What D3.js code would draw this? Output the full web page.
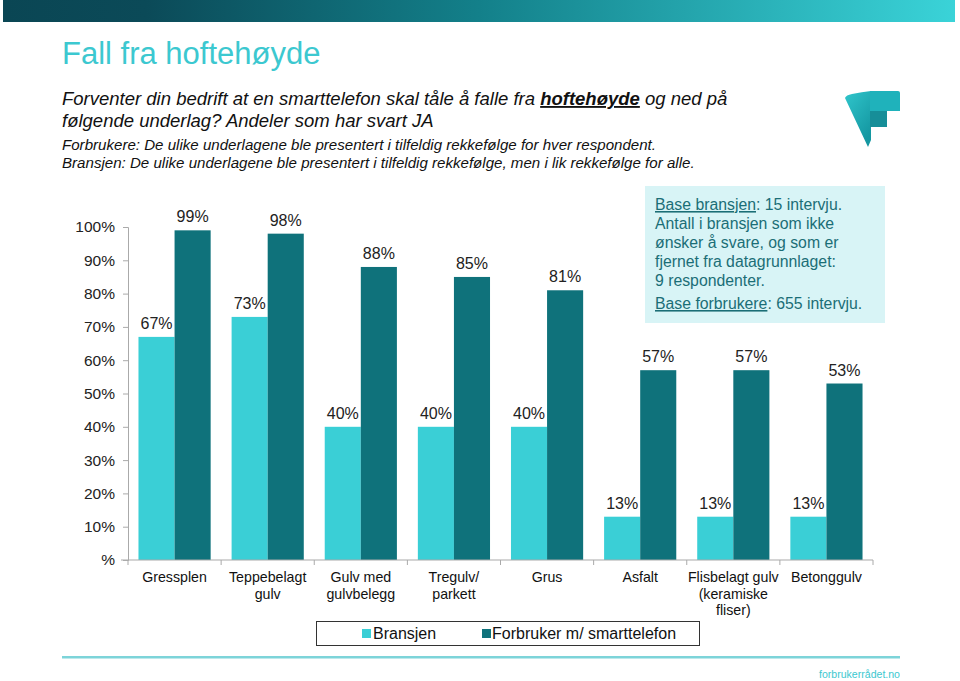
<!DOCTYPE html>
<html><head><meta charset="utf-8">
<script src="https://cdn.jsdelivr.net/npm/d3@7"></script>
<style>
html,body{margin:0;padding:0;background:#fff;}
svg{display:block;font-family:"Liberation Sans",Arial,sans-serif;}
</style></head>
<body><svg id="c" width="960" height="681"></svg>
<script>
const categories = [["Gressplen"],["Teppebelagt","gulv"],["Gulv med","gulvbelegg"],["Tregulv/","parkett"],["Grus"],["Asfalt"],["Flisbelagt gulv","(keramiske","fliser)"],["Betonggulv"]];
const bransjen = [67,73,40,40,40,13,13,13];
const forbruker = [99,98,88,85,81,57,57,53];
const yTicks = [0,10,20,30,40,50,60,70,80,90,100];
const seriesNames = ["Bransjen","Forbruker m/ smarttelefon"];
const colors = ["#3acfd6","#0f727b"];

const svg = d3.select("#c");
const defs = svg.append("defs");
const g1 = defs.append("linearGradient").attr("id","hdr").attr("x1","0").attr("x2","1");
g1.append("stop").attr("offset","0").attr("stop-color","#0a4654");
g1.append("stop").attr("offset","0.15").attr("stop-color","#0b4a58");
g1.append("stop").attr("offset","0.5").attr("stop-color","#13808a");
g1.append("stop").attr("offset","1").attr("stop-color","#3ad3d8");
svg.append("rect").attr("x",3).attr("y",0).attr("width",952).attr("height",22).attr("fill","url(#hdr)");

// title
svg.append("text").attr("x",62).attr("y",64).attr("font-size",31).attr("fill","#3cc8d0").text("Fall fra hoftehøyde");
const sub = svg.append("g").attr("font-style","italic").attr("fill","#111");
const t1 = sub.append("text").attr("x",62).attr("y",105).attr("font-size",18.5);
t1.append("tspan").text("Forventer din bedrift at en smarttelefon skal tåle å falle fra ");
t1.append("tspan").attr("font-weight","bold").attr("text-decoration","underline").text("hoftehøyde");
t1.append("tspan").text(" og ned på");
sub.append("text").attr("x",62).attr("y",127).attr("font-size",18.5).text("følgende underlag?  Andeler som har svart JA");
sub.append("text").attr("x",62).attr("y",150).attr("font-size",15.1).text("Forbrukere: De ulike underlagene ble presentert i tilfeldig rekkefølge for hver respondent.");
sub.append("text").attr("x",62).attr("y",168).attr("font-size",15.1).text("Bransjen: De ulike underlagene ble presentert i tilfeldig rekkefølge, men i lik rekkefølge for alle.");

// logo
const lg = defs.append("linearGradient").attr("id","lg").attr("x1","0").attr("y1","0").attr("x2","0.6").attr("y2","1");
lg.append("stop").attr("offset","0").attr("stop-color","#30c6cc");
lg.append("stop").attr("offset","1").attr("stop-color","#1497a1");
const logo = svg.append("g");
logo.append("path").attr("d","M845,98 Q846,95 852,94 Q862,92 871,91 L871,140 L868,147 Z").attr("fill","url(#lg)");
logo.append("path").attr("d","M870,91 L898,91 Q900,91 900,93 L900,111 L870,111 Z").attr("fill","#1fb2bb");
logo.append("rect").attr("x",870).attr("y",111).attr("width",17).attr("height",16).attr("fill","#168e98");

// chart
const x0 = d3.scaleBand().domain(d3.range(categories.length)).range([128,873]).paddingInner(0.225).paddingOuter(0.1125);
const y = d3.scaleLinear().domain([0,100]).range([560,227]);
const bw = x0.bandwidth()/2;

const yAx = svg.append("g").attr("transform","translate(128,0)")
  .call(d3.axisLeft(y).tickValues(yTicks).tickSize(5).tickFormat(d=> d===0?"%":d+"%"));
yAx.select(".domain").attr("stroke","#aaa");
yAx.selectAll(".tick line").attr("stroke","#aaa");
yAx.selectAll(".tick text").attr("font-size",15.5).attr("fill","#222").attr("font-family","Liberation Sans, Arial, sans-serif").attr("x",-13);

const bounds = d3.range(categories.length+1).map(i=>128+i*(745/categories.length));
svg.selectAll(".xt").data(bounds).enter().append("line").attr("x1",d=>d).attr("x2",d=>d).attr("y1",560).attr("y2",565).attr("stroke","#aaa");

const series = [bransjen, forbruker];
series.forEach((vals,s)=>{
  svg.append("g").selectAll("rect").data(vals).enter().append("rect")
    .attr("x",(d,i)=>x0(i)+s*bw).attr("width",bw)
    .attr("y",d=>y(d)).attr("height",d=>560-y(d)).attr("fill",colors[s]);
  svg.append("g").selectAll("text").data(vals).enter().append("text")
    .attr("x",(d,i)=>x0(i)+s*bw+bw/2).attr("y",d=>y(d)-8)
    .attr("text-anchor","middle").attr("font-size",16).attr("fill","#222").text(d=>d+"%");
});
svg.append("rect").attr("x",121).attr("y",559.5).attr("width",752).attr("height",1).attr("fill","#aaa");

// category labels
categories.forEach((lines,i)=>{
  const t = svg.append("text").attr("text-anchor","middle").attr("font-size",14.2).attr("fill","#111");
  lines.forEach((l,k)=>t.append("tspan").attr("x",x0(i)+x0.bandwidth()/2).attr("y",582+k*16.5).text(l));
});

// legend
svg.append("rect").attr("x",316.5).attr("y",621.5).attr("width",383).attr("height",24).attr("fill","#fff").attr("stroke","#333");
const leg = [[362,373],[482,492]];
seriesNames.forEach((n,s)=>{
  svg.append("rect").attr("x",leg[s][0]).attr("y",629).attr("width",9).attr("height",9).attr("fill",colors[s]);
  svg.append("text").attr("x",leg[s][1]).attr("y",639).attr("font-size",16).attr("fill","#111").text(n);
});

// info box
svg.append("rect").attr("x",645).attr("y",186).attr("width",240).attr("height",137).attr("fill","#d8f4f6");
const info = svg.append("g").attr("font-size",15.8).attr("fill","#1b6e76");
const il = info.append("text").attr("x",655).attr("y",210);
il.append("tspan").attr("text-decoration","underline").text("Base bransjen");
il.append("tspan").text(": 15 intervju.");
["Antall i bransjen som ikke","ønsker å svare, og som er","fjernet fra datagrunnlaget:","9 respondenter."].forEach((l,k)=>{
  info.append("text").attr("x",655).attr("y",229+k*19).text(l);
});
const il2 = info.append("text").attr("x",655).attr("y",309);
il2.append("tspan").attr("text-decoration","underline").text("Base forbrukere");
il2.append("tspan").text(": 655 intervju.");

// footer
svg.append("rect").attr("x",62).attr("y",656).attr("width",838).attr("height",2.5).attr("fill","#7dd4d9");
svg.append("text").attr("x",900).attr("y",678).attr("text-anchor","end").attr("font-size",11.5).attr("fill","#3cc8d0").attr("textLength",81).attr("lengthAdjust","spacingAndGlyphs").text("forbrukerrådet.no");
</script></body></html>
